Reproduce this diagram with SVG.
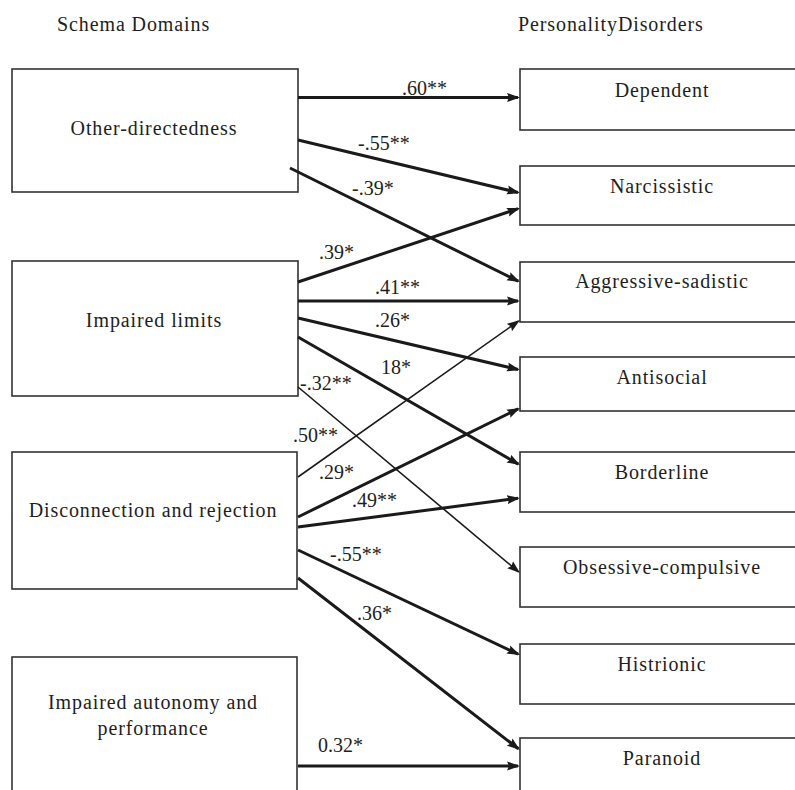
<svg xmlns="http://www.w3.org/2000/svg" width="795" height="790" viewBox="0 0 795 790">
<style>
  .box { fill: #ffffff; stroke: #333333; stroke-width: 1.6; }
  .t { font-size: 20px; fill: #1e1e1e; }
  .n { text-anchor: middle; letter-spacing: 0.9px; }
  .h { letter-spacing: 0.9px; }
  .thick { stroke: #1a1a1a; stroke-width: 3; fill: none; marker-end: url(#ah); }
  .thin { stroke: #1a1a1a; stroke-width: 1.6; fill: none; marker-end: url(#ah); }
</style>
<defs>
  <marker id="ah" markerUnits="userSpaceOnUse" markerWidth="14" markerHeight="10" refX="11" refY="5" orient="auto" viewBox="0 0 14 10">
    <path d="M0,0.5 L13,5 L0,9.5 L2,5 z" fill="#1a1a1a"/>
  </marker>
</defs>
<rect width="795" height="790" fill="#ffffff"/>

<g id="headers" font-family="Liberation Serif, serif">
  <text class="t h" x="57" y="31">Schema Domains</text>
  <text class="t h" x="518" y="31">PersonalityDisorders</text>
</g>

<g id="node-other-directedness" font-family="Liberation Serif, serif">
  <rect class="box" x="12" y="69" width="286" height="123"/>
  <text class="t n" x="154" y="135">Other-directedness</text>
</g>
<g id="node-impaired-limits" font-family="Liberation Serif, serif">
  <rect class="box" x="12" y="261" width="286" height="135"/>
  <text class="t n" x="154" y="327">Impaired limits</text>
</g>
<g id="node-disconnection" font-family="Liberation Serif, serif">
  <rect class="box" x="12" y="452" width="285" height="137"/>
  <text class="t n" x="153" y="517">Disconnection and rejection</text>
</g>
<g id="node-impaired-autonomy" font-family="Liberation Serif, serif">
  <rect class="box" x="12" y="657" width="285" height="150"/>
  <text class="t n" x="153" y="709">Impaired autonomy and</text>
  <text class="t n" x="153" y="735">performance</text>
</g>

<g id="node-dependent" font-family="Liberation Serif, serif">
  <rect class="box" x="520" y="69" width="290" height="61"/>
  <text class="t n" x="662" y="97">Dependent</text>
</g>
<g id="node-narcissistic" font-family="Liberation Serif, serif">
  <rect class="box" x="520" y="166" width="290" height="59"/>
  <text class="t n" x="662" y="193">Narcissistic</text>
</g>
<g id="node-aggressive-sadistic" font-family="Liberation Serif, serif">
  <rect class="box" x="520" y="262" width="290" height="60"/>
  <text class="t n" x="662" y="288">Aggressive-sadistic</text>
</g>
<g id="node-antisocial" font-family="Liberation Serif, serif">
  <rect class="box" x="520" y="357" width="290" height="54"/>
  <text class="t n" x="662" y="384">Antisocial</text>
</g>
<g id="node-borderline" font-family="Liberation Serif, serif">
  <rect class="box" x="520" y="452" width="290" height="60"/>
  <text class="t n" x="662" y="479">Borderline</text>
</g>
<g id="node-obsessive-compulsive" font-family="Liberation Serif, serif">
  <rect class="box" x="520" y="547" width="290" height="60"/>
  <text class="t n" x="662" y="574">Obsessive-compulsive</text>
</g>
<g id="node-histrionic" font-family="Liberation Serif, serif">
  <rect class="box" x="520" y="644" width="290" height="60"/>
  <text class="t n" x="662" y="671">Histrionic</text>
</g>
<g id="node-paranoid" font-family="Liberation Serif, serif">
  <rect class="box" x="520" y="738" width="290" height="70"/>
  <text class="t n" x="662" y="765">Paranoid</text>
</g>

<g id="connectors" font-family="Liberation Serif, serif">
  <line class="thick" x1="298" y1="97.5" x2="518" y2="97.5"/>
  <line class="thick" x1="298" y1="140" x2="518" y2="192.5"/>
  <line class="thick" x1="290" y1="168" x2="518.2" y2="281.2"/>
  <line class="thick" x1="298" y1="282" x2="518.1" y2="208.7"/>
  <line class="thick" x1="298" y1="301" x2="518" y2="301"/>
  <line class="thick" x1="298" y1="318" x2="518" y2="369.5"/>
  <line class="thick" x1="298" y1="337" x2="518.3" y2="464.1"/>
  <line class="thin" x1="298" y1="387" x2="518.5" y2="571.8"/>
  <line class="thin" x1="298" y1="477" x2="518.4" y2="321.2"/>
  <line class="thick" x1="298" y1="517" x2="518.2" y2="408.9"/>
  <line class="thick" x1="298" y1="527" x2="518" y2="498.3"/>
  <line class="thick" x1="298" y1="550" x2="518.2" y2="654.2"/>
  <line class="thick" x1="298" y1="578" x2="518.4" y2="748.8"/>
  <line class="thick" x1="298" y1="766" x2="518" y2="766"/>

  <g id="connector-labels">
    <text class="t" x="402" y="95">.60**</text>
    <text class="t" x="358" y="150">-.55**</text>
    <text class="t" x="352" y="195">-.39*</text>
    <text class="t" x="319" y="259">.39*</text>
    <text class="t" x="375" y="294">.41**</text>
    <text class="t" x="375" y="327">.26*</text>
    <text class="t" x="381" y="374">18*</text>
    <text class="t" x="300" y="390">-.32**</text>
    <text class="t" x="293" y="442">.50**</text>
    <text class="t" x="319" y="479">.29*</text>
    <text class="t" x="352" y="507">.49**</text>
    <text class="t" x="330" y="561">-.55**</text>
    <text class="t" x="357" y="620">.36*</text>
    <text class="t" x="318" y="752">0.32*</text>
  </g>
</g>
</svg>
